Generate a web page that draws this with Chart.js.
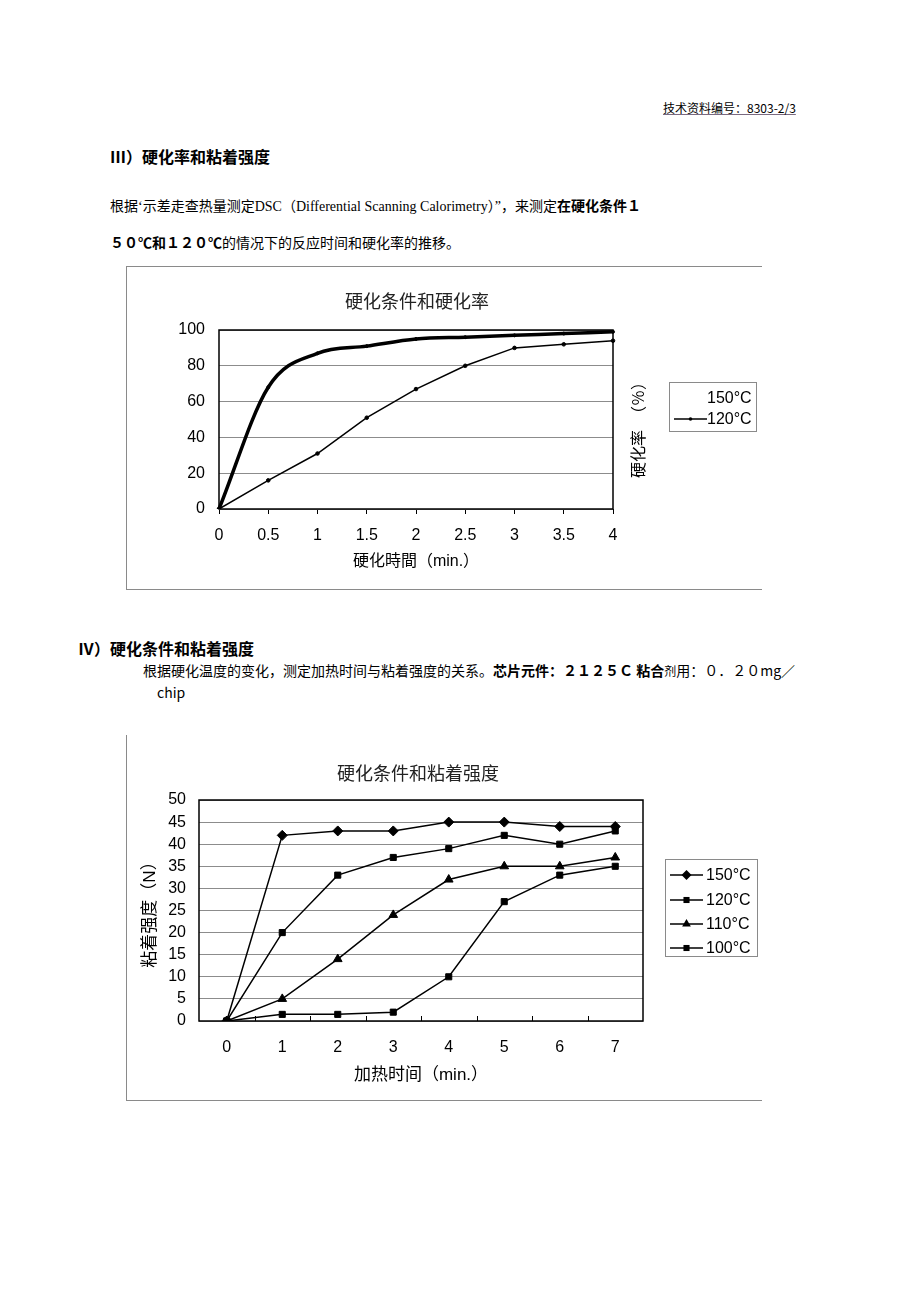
<!DOCTYPE html>
<html lang="zh">
<head>
<meta charset="utf-8">
<title>硬化率和粘着强度</title>
<script src="https://cdn.jsdelivr.net/npm/chart.js@4.4.0/dist/chart.umd.min.js"></script>
<style>
  html, body { margin: 0; padding: 0; background: #fff; }
  body { width: 920px; height: 1302px; position: relative; overflow: hidden; color: #000;
         font-family: "Noto Sans CJK SC", "Liberation Sans", sans-serif; }
  .abs { position: absolute; white-space: nowrap; }
  .docno { left: 663px; top: 100px; font-size: 12px; line-height: 16px;
           text-decoration: underline; text-decoration-color: #7a6a80; }
  .h { font-size: 16px; line-height: 20px; font-weight: bold; }
  .p { font-size: 14px; line-height: 18px; }
  .serif { font-family: "Liberation Serif", "Noto Sans CJK SC", serif; }
  .frame { position: absolute; box-sizing: border-box; border-color: #8a8a8a; border-style: solid; }
  canvas { position: absolute; }
  .ctitle { position: absolute; font-size: 18px; line-height: 22px; white-space: nowrap;
            transform: translate(-50%, -50%); color: #222; }
  .ytitle { position: absolute; font-size: 16px; line-height: 20px; white-space: nowrap;
            transform: translate(-50%, -50%) rotate(-90deg); }
  .legend { position: absolute; box-sizing: border-box; border: 1px solid #8a8a8a;
            font-family: "Liberation Sans", sans-serif; font-size: 16px; }
  .legend .row { position: absolute; height: 18px; line-height: 18px; white-space: nowrap; }
  .legend svg { position: absolute; left: 0; top: 1px; }
  .legend span { position: absolute; }
</style>
</head>
<body>

<div class="abs docno">技术资料编号：8303-2/3</div>

<div class="abs h" style="left:110px; top:146px;">Ⅲ）硬化率和粘着强度</div>
<div class="abs p serif" style="left:110px; top:198px;">根据‘示差走查热量测定DSC（Differential Scanning Calorimetry）”，来测定<b>在硬化条件１</b></div>
<div class="abs p" style="left:110px; top:233px;"><b>５０℃和１２０℃</b>的情况下的反应时间和硬化率的推移。</div>

<div class="frame" style="left:126px; top:266px; width:636px; height:324px; border-width:1px 0 1px 1px;"></div>
<canvas id="rateChart" width="636" height="323" style="left:126px; top:266px;"></canvas>
<div class="ctitle" style="left:417px; top:300px;">硬化条件和硬化率</div>
<div class="ytitle" style="left:637px; top:426px;">硬化率　（％）</div>
<div class="legend" id="rateLegend" style="left:669px; top:382px; width:88px; height:50px;"></div>

<div class="abs h" style="left:78px; top:638px;">Ⅳ）硬化条件和粘着强度</div>
<div class="abs p" style="left:143px; top:661px;">根据硬化温度的变化，测定加热时间与粘着强度的关系。<b>芯片元件：２１２５Ｃ 粘合</b><span style="font-size:12px">剂</span>用：０．２０mg／</div>
<div class="abs p" style="left:157px; top:683px;">chip</div>

<div class="frame" style="left:126px; top:735px; width:636px; height:366px; border-width:0 0 1px 1px;"></div>
<canvas id="strengthChart" width="636" height="365" style="left:126px; top:735px;"></canvas>
<div class="ctitle" style="left:418px; top:772px;">硬化条件和粘着强度</div>
<div class="legend" id="strengthLegend" style="left:665px; top:859px; width:93px; height:98px;"></div>

<script>
// ── data ────────────────────────────────────────────────────────────────────
const cureTimes   = ["0", "0.5", "1", "1.5", "2", "2.5", "3", "3.5", "4"];
const cure150     = [0, 68, 87, 91, 95, 96, 97, 98, 99];
const cure120     = [0, 16, 31, 51, 67, 80, 90, 92, 94];

const heatTimes   = ["0", "1", "2", "3", "4", "5", "6", "7"];
const bond150     = [0, 42, 43, 43, 45, 45, 44, 44];
const bond120     = [0, 20, 33, 37, 39, 42, 40, 43];
const bond110     = [0, 5, 14, 24, 32, 35, 35, 37];
const bond100     = [0, 1.5, 1.5, 2, 10, 27, 33, 35];

const tempLabels1 = ["150°C", "120°C"];
const tempLabels2 = ["150°C", "120°C", "110°C", "100°C"];

// ── defaults ────────────────────────────────────────────────────────────────
const FONT = '"Liberation Sans", "Noto Sans CJK SC", sans-serif';
Chart.defaults.font.family = FONT;
Chart.defaults.color = "#000";
Chart.defaults.animation = false;
Chart.defaults.plugins.legend.display = false;
Chart.defaults.plugins.tooltip.enabled = false;

const GRID = "#8c8c8c";

// black box round the plot area
const plotFrame = {
  id: "plotFrame",
  beforeDatasetsDraw(chart) {
    const { ctx, chartArea: a } = chart;
    ctx.save();
    ctx.strokeStyle = "#000";
    ctx.lineWidth = 1.5;
    ctx.strokeRect(a.left, a.top, a.right - a.left, a.bottom - a.top);
    ctx.restore();
  }
};

// short inward ticks between categories (bottom axis)
const innerTicks = {
  id: "innerTicks",
  beforeDatasetsDraw(chart) {
    const { ctx, chartArea: a } = chart;
    const x = chart.scales.x;
    ctx.save();
    ctx.strokeStyle = "#000";
    ctx.lineWidth = 1;
    for (let i = 1; i < x.ticks.length; i++) {
      const px = Math.round((x.getPixelForTick(i - 1) + x.getPixelForTick(i)) / 2) + 0.5;
      ctx.beginPath(); ctx.moveTo(px, a.bottom); ctx.lineTo(px, a.bottom - 5); ctx.stroke();
    }
    ctx.restore();
  }
};

// ── legend (html) ───────────────────────────────────────────────────────────
function symbolSvg(ds) {
  const cx = 16.5, cy = 8, r = ds.pointRadius;
  let m = "";
  if (ds.pointStyle === "rectRot") {
    m = `<polygon points="${cx - r},${cy} ${cx},${cy - r} ${cx + r},${cy} ${cx},${cy + r}"/>`;
  } else if (ds.pointStyle === "rect") {
    const s = r * Math.SQRT1_2;
    m = `<rect x="${cx - s}" y="${cy - s}" width="${2 * s}" height="${2 * s}"/>`;
  } else if (ds.pointStyle === "triangle") {
    m = `<polygon points="${cx},${cy - r} ${cx + r * 0.87},${cy + r * 0.5} ${cx - r * 0.87},${cy + r * 0.5}"/>`;
  } else {
    m = `<circle cx="${cx}" cy="${cy}" r="${r}"/>`;
  }
  return `<svg width="33" height="16"><line x1="0" y1="8" x2="33" y2="8" stroke="#000" stroke-width="${ds.borderWidth}"/>${m}</svg>`;
}

function buildLegend(el, datasets, rowTops, textLeft, hideSymbol) {
  el.innerHTML = datasets.map((ds, i) =>
    `<div class="row" style="left:4px; top:${rowTops[i]}px; width:80px;">` +
    (hideSymbol[i] ? "" : symbolSvg(ds)) +
    `<span style="left:${textLeft}px;">${ds.label}</span></div>`).join("");
}

// ── chart 1: 硬化条件和硬化率 ────────────────────────────────────────────────
const rateSets = [
  { label: tempLabels1[0], data: cure150, borderColor: "#000", backgroundColor: "#000",
    borderWidth: 3.5, pointRadius: 1.5, pointBorderWidth: 1, pointStyle: "circle",
    cubicInterpolationMode: "monotone", tension: 0.4 },
  { label: tempLabels1[1], data: cure120, borderColor: "#000", backgroundColor: "#000",
    borderWidth: 1.5, pointRadius: 1.8, pointBorderWidth: 1, pointStyle: "circle", tension: 0 }
];

new Chart(document.getElementById("rateChart"), {
  type: "line",
  data: { labels: cureTimes, datasets: rateSets },
  options: {
    responsive: false,
    layout: { padding: { left: 0, top: 64, right: 149, bottom: 18 } },
    scales: {
      x: {
        type: "category", offset: false,
        grid: { drawOnChartArea: false, drawTicks: true, tickLength: 5, color: "#000" },
        border: { display: false },
        ticks: { font: { size: 16 }, padding: 12, maxRotation: 0, autoSkip: false },
        title: { display: true, text: "硬化時間（min.）", font: { size: 16, family: FONT },
                 padding: { top: 0, bottom: 0 } },
        afterFit(s) { s.height = 62; }
      },
      y: {
        min: 0, max: 100,
        ticks: { stepSize: 20, font: { size: 16 }, padding: 14, autoSkip: false },
        grid: { color: GRID, lineWidth: 1, drawTicks: false },
        border: { display: false },
        afterFit(s) { s.width = 93; }
      }
    }
  },
  plugins: [plotFrame]
});
buildLegend(document.getElementById("rateLegend"), rateSets, [6, 27], 33, [true, false]);

// ── chart 2: 硬化条件和粘着强度 ──────────────────────────────────────────────
const bondSets = [
  { label: tempLabels2[0], data: bond150, pointStyle: "rectRot", pointRadius: 5 },
  { label: tempLabels2[1], data: bond120, pointStyle: "rect", pointRadius: 4.3 },
  { label: tempLabels2[2], data: bond110, pointStyle: "triangle", pointRadius: 5 },
  { label: tempLabels2[3], data: bond100, pointStyle: "rect", pointRadius: 4.3 }
].map(d => Object.assign(d, { borderColor: "#000", backgroundColor: "#000",
                              borderWidth: 1.5, pointBorderWidth: 1, tension: 0 }));

new Chart(document.getElementById("strengthChart"), {
  type: "line",
  data: { labels: heatTimes, datasets: bondSets },
  options: {
    responsive: false,
    layout: { padding: { left: 0, top: 65, right: 119, bottom: 14 } },
    scales: {
      x: {
        type: "category", offset: true,
        grid: { display: false },
        border: { display: false },
        ticks: { font: { size: 16 }, padding: 9, maxRotation: 0, autoSkip: false },
        title: { display: true, text: "加热时间（min.）", font: { size: 17, family: FONT },
                 padding: { top: 0, bottom: 0 } },
        afterFit(s) { s.height = 65; }
      },
      y: {
        min: 0, max: 50,
        ticks: { stepSize: 5, font: { size: 16 }, padding: 13, autoSkip: false },
        grid: { color: GRID, lineWidth: 1, drawTicks: false },
        border: { display: false },
        title: { display: true, text: "粘着强度（N）", font: { size: 17, family: FONT },
                 padding: { top: 14, bottom: 0 } },
        afterFit(s) { s.width = 73; }
      }
    }
  },
  plugins: [plotFrame, innerTicks]
});
buildLegend(document.getElementById("strengthLegend"), bondSets, [6, 31, 55, 79], 36,
            [false, false, false, false]);
</script>
</body>
</html>
